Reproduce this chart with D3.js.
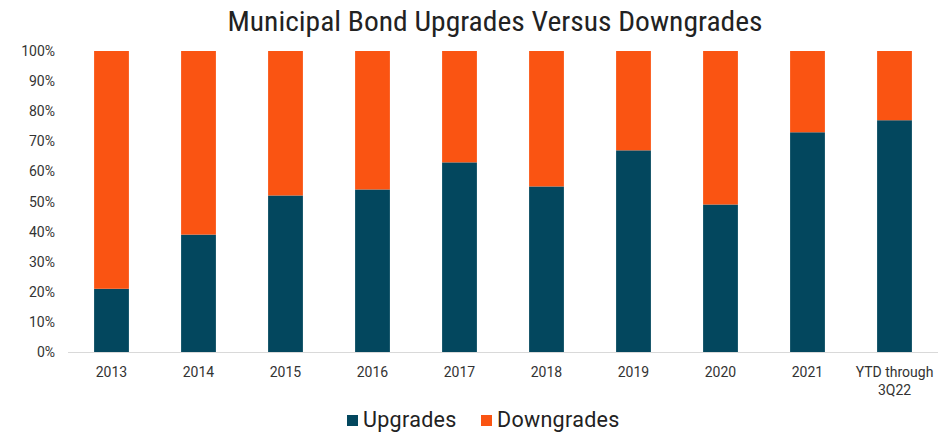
<!DOCTYPE html>
<html>
<head>
<meta charset="utf-8">
<script src="https://cdn.jsdelivr.net/npm/d3@7"></script>
<style>
  html, body { margin: 0; padding: 0; background: #fff; }
  svg { display: block; }
</style>
</head>
<body>
<svg width="951" height="432"></svg>
<script>
var categories = ['2013', '2014', '2015', '2016', '2017', '2018', '2019', '2020', '2021', 'YTD through\n3Q22']
var upgrades = [21, 39, 52, 54, 63, 55, 67, 49, 73, 77]
var downgrades = upgrades.map(function (d) { return 100 - d })
var yTicks = [0, 10, 20, 30, 40, 50, 60, 70, 80, 90, 100]
var seriesNames = ['Upgrades', 'Downgrades']
var colors = ['#03475e', '#fa5412']

;(function (d3) {
  var svg = d3.select('svg')
  var font = 'Roboto, "Liberation Sans", sans-serif'

  var x = d3.scaleBand()
    .domain(categories)
    .range([68, 938])
    .paddingInner(0.6)
    .paddingOuter(0.3)

  var y = d3.scaleLinear()
    .domain([0, 100])
    .range([352, 51])

  // title
  svg.append('text')
    .attr('x', 495)
    .attr('y', 31)
    .attr('text-anchor', 'middle')
    .attr('textLength', 535)
    .attr('lengthAdjust', 'spacingAndGlyphs')
    .style('font-family', '"Liberation Sans Narrow", "Roboto Condensed", ' + font)
    .style('font-size', '27px')
    .style('fill', '#222')
    .text('Municipal Bond Upgrades Versus Downgrades')

  // y axis labels
  svg.selectAll('.ylab')
    .data(yTicks)
    .enter().append('text')
    .attr('class', 'ylab')
    .attr('x', 55)
    .attr('y', function (d) { return y(d) + 5 })
    .attr('text-anchor', 'end')
    .style('font-family', font)
    .style('font-size', '14px')
    .style('fill', '#333')
    .text(function (d) { return d + '%' })

  // stacked bars
  var stack = categories.map(function (c, i) {
    return { cat: c, up: upgrades[i], down: downgrades[i] }
  })

  svg.selectAll('.up')
    .data(stack)
    .enter().append('rect')
    .attr('class', 'up')
    .attr('x', function (d) { return x(d.cat) })
    .attr('width', x.bandwidth())
    .attr('y', function (d) { return y(d.up) })
    .attr('height', function (d) { return y(0) - y(d.up) })
    .style('fill', colors[0])

  svg.selectAll('.down')
    .data(stack)
    .enter().append('rect')
    .attr('class', 'down')
    .attr('x', function (d) { return x(d.cat) })
    .attr('width', x.bandwidth())
    .attr('y', function (d) { return y(d.up + d.down) })
    .attr('height', function (d) { return y(d.up) - y(d.up + d.down) })
    .style('fill', colors[1])

  // baseline
  svg.append('line')
    .attr('x1', 68).attr('x2', 938)
    .attr('y1', y(0) + 0.5).attr('y2', y(0) + 0.5)
    .style('stroke', '#d9d9d9')
    .style('stroke-width', 1)

  // x labels
  var xl = svg.selectAll('.xlab')
    .data(categories)
    .enter().append('text')
    .attr('class', 'xlab')
    .attr('x', function (d) { return x(d) + x.bandwidth() / 2 })
    .attr('y', 377)
    .attr('text-anchor', 'middle')
    .style('font-family', font)
    .style('font-size', '14px')
    .style('fill', '#333')

  xl.each(function (d) {
    var t = d3.select(this)
    d.split('\n').forEach(function (line, i) {
      t.append('tspan')
        .attr('x', x(d) + x.bandwidth() / 2)
        .attr('dy', i === 0 ? 0 : 18)
        .text(line)
    })
  })

  // legend
  var legX = [347, 481]
  var legend = svg.selectAll('.leg')
    .data(seriesNames)
    .enter().append('g')
    .attr('class', 'leg')
    .attr('transform', function (d, i) { return 'translate(' + legX[i] + ',0)' })

  legend.append('rect')
    .attr('x', 0).attr('y', 415)
    .attr('width', 11).attr('height', 11)
    .style('fill', function (d, i) { return colors[i] })

  legend.append('text')
    .attr('x', 16).attr('y', 427)
    .style('font-family', font)
    .style('font-size', '21.5px')
    .style('letter-spacing', '0.3px')
    .style('fill', '#222')
    .text(function (d) { return d })
})(window.d3)
</script>
</body>
</html>
